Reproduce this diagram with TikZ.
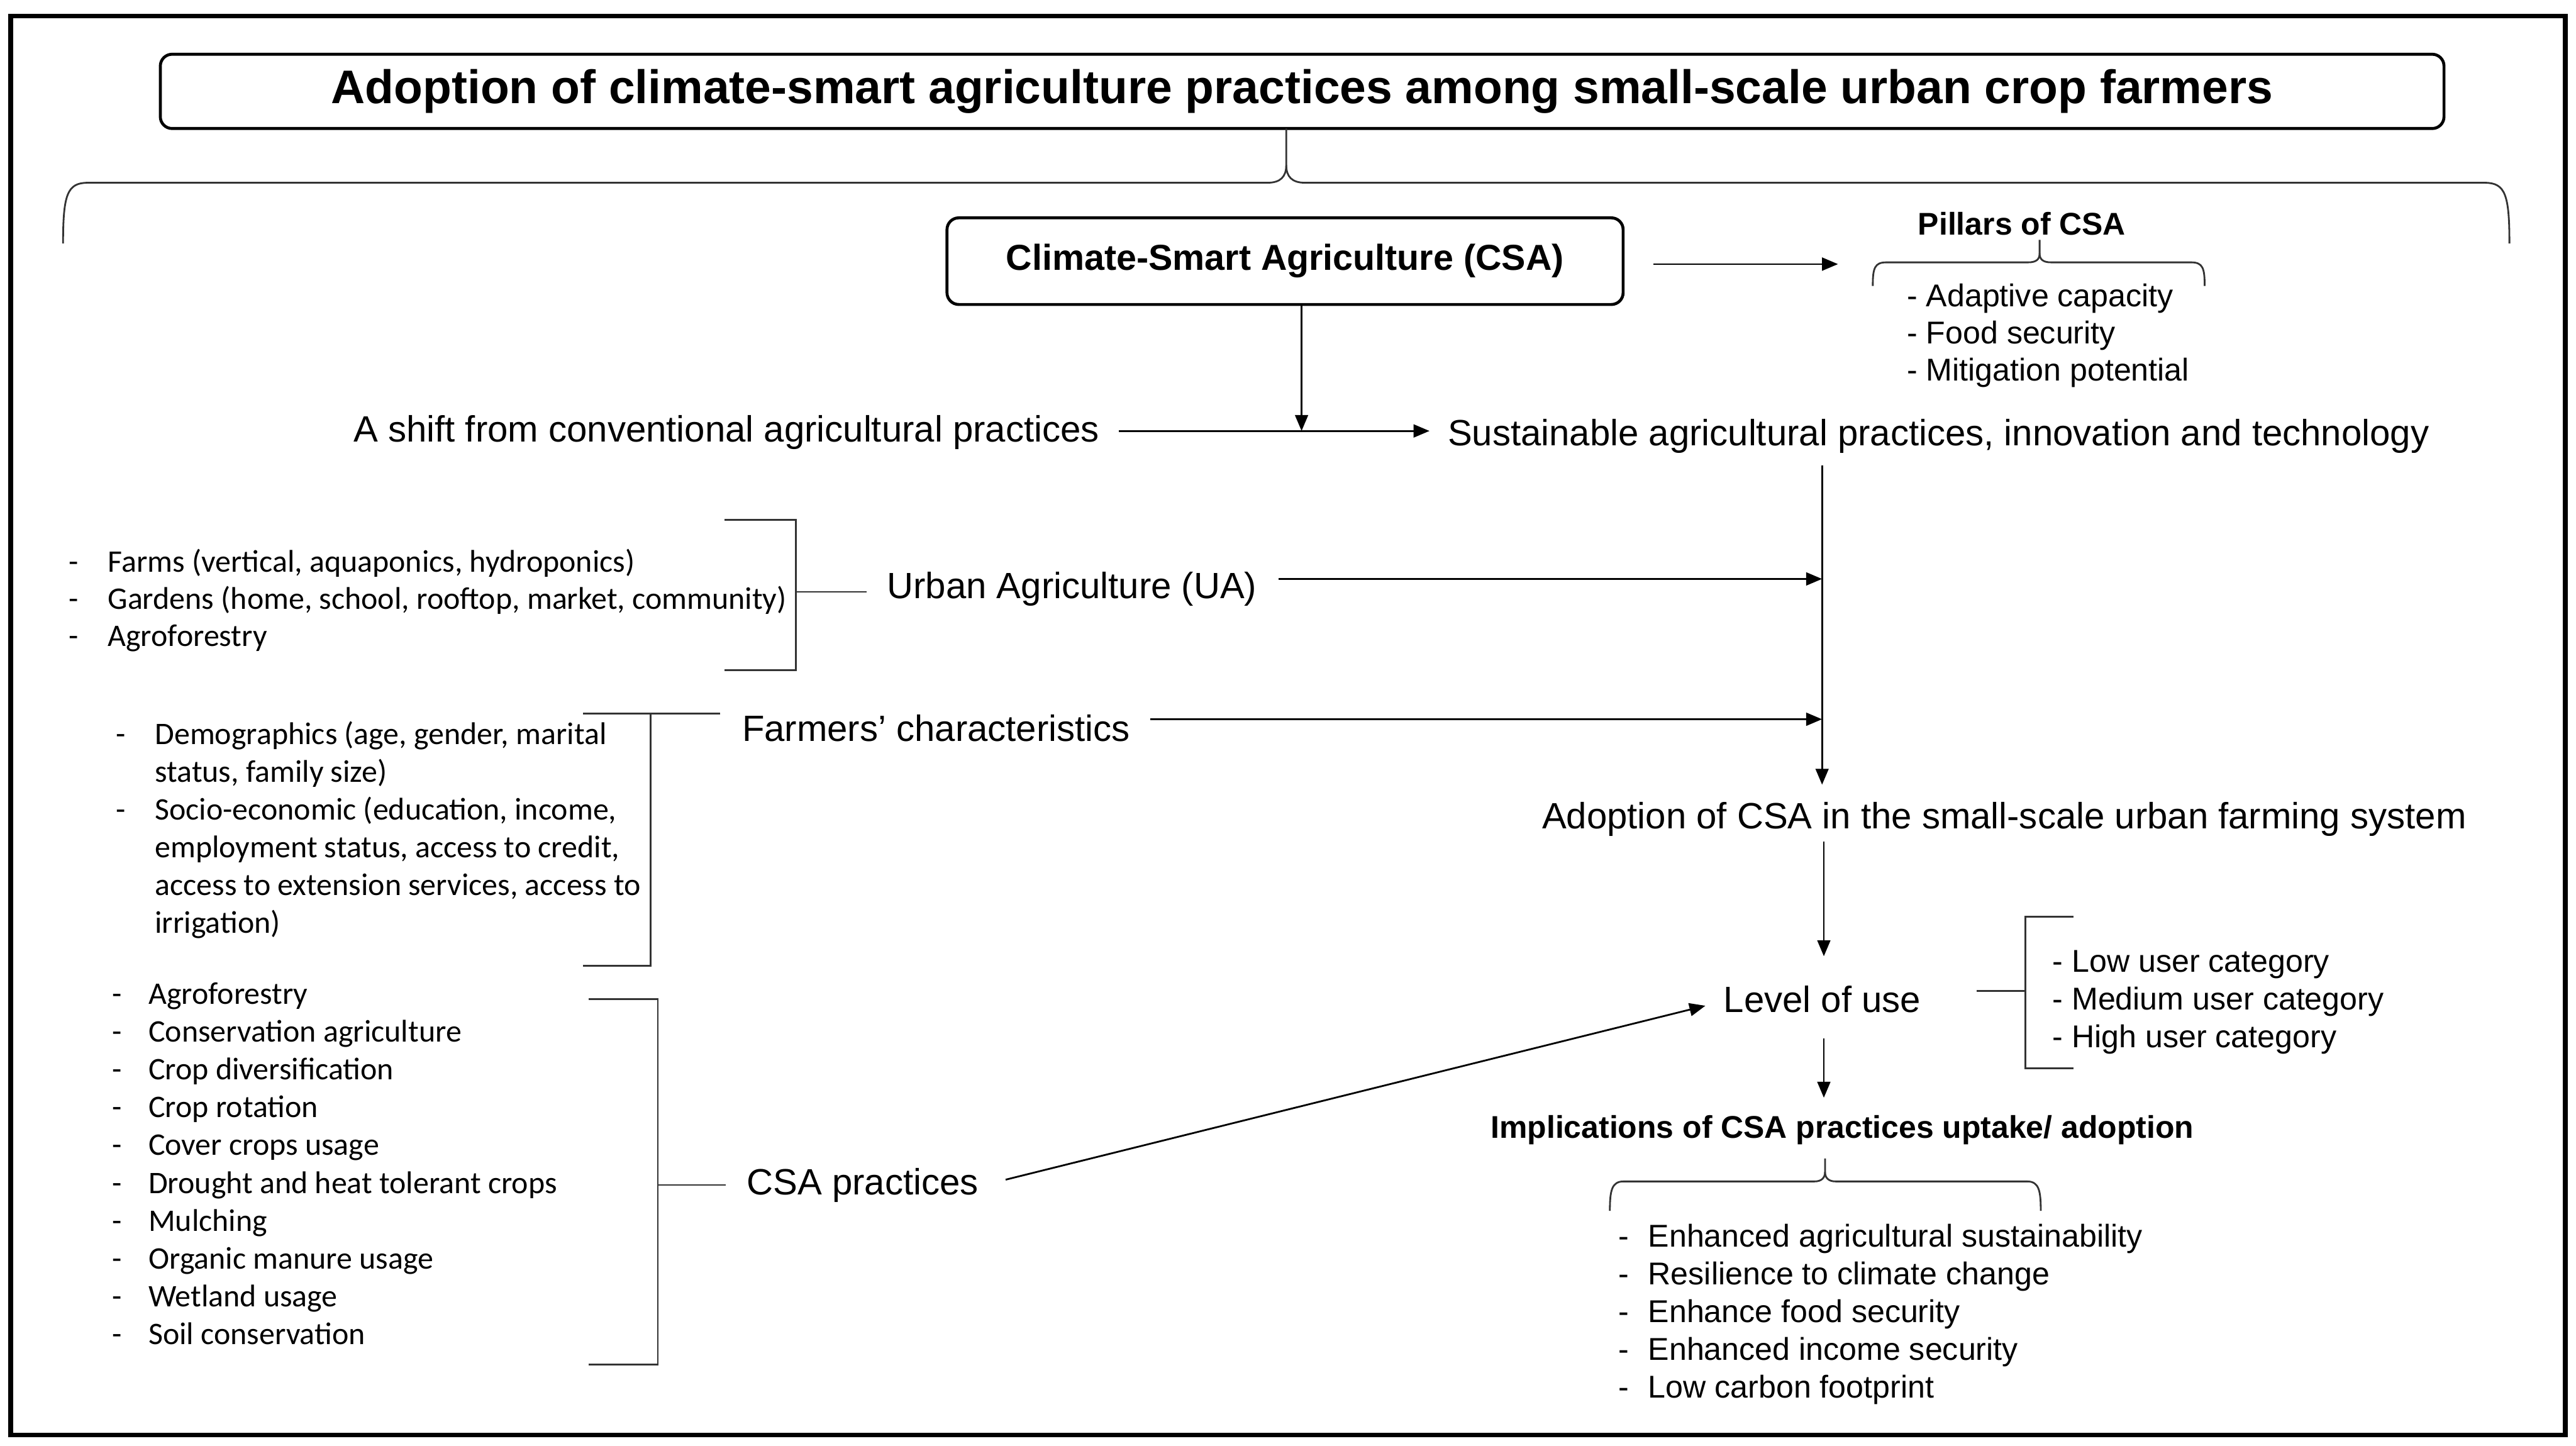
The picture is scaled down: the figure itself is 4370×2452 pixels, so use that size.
\documentclass[tikz,border=0pt]{standalone}
\usepackage{fontspec}
\setmainfont{Liberation Sans}
\newfontfamily\calfont{Carlito}
\usetikzlibrary{arrows.meta,calc}
\begin{document}
\begin{tikzpicture}[x=0.2pt,y=-0.2pt,
  lbl/.style={inner sep=0pt, anchor=base west, font=\fontsize{12.4pt}{14pt}\selectfont},
  arl/.style={inner sep=0pt, anchor=base west, font=\fontsize{10.7pt}{12pt}\selectfont},
  lst/.style={inner sep=0pt, anchor=base west, font=\calfont\fontsize{10.65pt}{12pt}\selectfont},
  bld/.style={inner sep=0pt, anchor=base west, font=\bfseries\fontsize{10.65pt}{12pt}\selectfont},
  arr/.style={-{Triangle[length=5.4pt,width=4.4pt]}, line width=0.6pt},
  brk/.style={line width=0.6pt, black!80},
  boxed/.style={draw, rounded corners=4pt, line width=1pt, inner sep=0pt}]
\useasboundingbox (0,0) rectangle (4370,2452);
\draw[line width=1.6pt] (18,27) rectangle (4352,2434);

% title
\node[boxed, minimum width=774.8pt, minimum height=25.2pt] (title) at (2209,155)
  {\raisebox{-1.4pt}{\bfseries\fontsize{16pt}{18pt}\selectfont Adoption of climate-smart agriculture practices among small-scale urban crop farmers}};
% big brace
\coordinate (btip) at (2182,218);
\draw[brk] (107,413) .. controls (107,330) and (114,310) .. (149,310) -- (2150,310)
  .. controls (2172,310) and (2182,300) .. (2182,280) -- (btip);
\draw[brk] (4257,413) .. controls (4257,330) and (4250,310) .. (4215,310) -- (2214,310)
  .. controls (2192,310) and (2182,300) .. (2182,280);

% CSA box
\node[boxed, minimum width=229.4pt, minimum height=29.4pt] (csa) at (2180,443)
  {\raisebox{-1.1pt}{\bfseries\fontsize{12.25pt}{14pt}\selectfont Climate-Smart Agriculture (CSA)}};

% pillars
\node[bld, anchor=base] (pill) at (3430,398) {Pillars of CSA};
\coordinate (ptip) at (3460,407);
\draw[brk] (3177,485) .. controls (3177,455) and (3180,445) .. (3200,445) -- (3441,445)
  .. controls (3454,445) and (3460,440) .. (3460,430) -- (ptip);
\draw[brk] (3740,485) .. controls (3740,455) and (3737,445) .. (3717,445) -- (3479,445)
  .. controls (3466,445) and (3460,440) .. (3460,430);
\node[arl] (p1) at (3234,520) {- Adaptive capacity};
\node[arl] (p2) at (3234,583) {- Food security};
\node[arl] (p3) at (3234,646) {- Mitigation potential};
\coordinate (csaR) at (2805,448);
\coordinate (pillL) at (3118,448);
\draw[arr] (csaR) -- (pillL);

% shift
\node[lbl] (shift) at (599,749) {A shift from conventional agricultural practices};
\node[lbl] (sust) at (2455,756) {Sustainable agricultural practices, innovation and technology};
\coordinate (shiftE) at (1898,731);
\coordinate (sustW) at (2425,731);
\coordinate (csaDown) at (2208,731);
\draw[arr] (shiftE) -- (sustW);
\draw[arr] (csa.south -| csaDown) -- (csaDown);

% main vertical
\coordinate (vtop) at (3091,789);
\coordinate (vbot) at (3091,1331);
\draw[arr] (vtop) -- (vbot);

% UA
\node[lbl] (ua) at (1504,1015) {Urban Agriculture (UA)};
\coordinate (uaE) at (2169,982);
\coordinate (uaJ) at (3091,982);
\draw[arr] (uaE) -- (uaJ);
\draw[brk] (1229,882) -- (1350,882) -- (1350,1137) -- (1229,1137);
\draw[brk] (1350,1004) -- (1470,1004);
\foreach \t [count=\i] in {Farms (vertical{,} aquaponics{,} hydroponics),Gardens (home{,} school{,} rooftop{,} market{,} community),Agroforestry}{
  \node[lst] (ud\i) at (116,{970+63*(\i-1)}) {-};
  \node[lst] (ui\i) at (182,{970+63*(\i-1)}) {\t};
}

% Farmers
\node[lbl] (farm) at (1258,1257) {Farmers’ characteristics};
\coordinate (farmE) at (1951,1220);
\coordinate (farmJ) at (3091,1220);
\draw[arr] (farmE) -- (farmJ);
\draw[brk] (1222,1210) -- (989,1210);
\draw[brk] (1104,1210) -- (1104,1638) -- (989,1638);
\node[lst] (fd1) at (196,1263) {-};
\node[lst] (fd3) at (196,1391) {-};
\foreach \t [count=\i] in {Demographics (age{,} gender{,} marital,status{,} family size),Socio-economic (education{,} income{,},employment status{,} access to credit{,},access to extension services{,} access to,irrigation)}{
  \node[lst] (fi\i) at (262,{1263+64*(\i-1)}) {\t};
}

% Adoption
\node[lbl] (adopt) at (2615,1406) {Adoption of CSA in the small-scale urban farming system};
\coordinate (adS) at (3094,1427);
\coordinate (lvN) at (3094,1622);
\draw[arr] (adS) -- (lvN);

% Level of use
\node[lbl] (level) at (2923,1717) {Level of use};
\draw[brk] (3353,1681) -- (3436,1681);
\draw[brk] (3517,1555) -- (3436,1555) -- (3436,1812) -- (3517,1812);
\node[arl] (l1) at (3481,1649) {- Low user category};
\node[arl] (l2) at (3481,1713) {- Medium user category};
\node[arl] (l3) at (3481,1777) {- High user category};
\coordinate (lvS) at (3094,1761);
\coordinate (imN) at (3094,1862);
\draw[arr] (lvS) -- (imN);

% Implications
\node[bld] (impl) at (2528,1931) {Implications of CSA practices uptake/ adoption};
\coordinate (itip) at (3096,1965);
\draw[brk] (2731,2054) .. controls (2731,2020) and (2734,2004) .. (2754,2004) -- (3078,2004)
  .. controls (3090,2004) and (3096,1998) .. (3096,1988) -- (itip);
\draw[brk] (3462,2054) .. controls (3462,2020) and (3459,2004) .. (3439,2004) -- (3114,2004)
  .. controls (3102,2004) and (3096,1998) .. (3096,1988);
\foreach \t [count=\i] in {Enhanced agricultural sustainability,Resilience to climate change,Enhance food security,Enhanced income security,Low carbon footprint}{
  \node[arl] (id\i) at (2745,{2115+64*(\i-1)}) {-};
  \node[arl] (ii\i) at (2795,{2115+64*(\i-1)}) {\t};
}

% CSA practices
\node[lbl] (prac) at (1266,2027) {CSA practices};
\coordinate (prE) at (1706,2001);
\coordinate (lvW) at (2893,1706);
\draw[arr] (prE) -- (lvW);
\draw[brk] (999,1695) -- (1116,1695) -- (1116,2315) -- (999,2315);
\draw[brk] (1116,2010) -- (1231,2010);
\foreach \t [count=\i] in {Agroforestry,Conservation agriculture,Crop diversification,Crop rotation,Cover crops usage,Drought and heat tolerant crops,Mulching,Organic manure usage,Wetland usage,Soil conservation}{
  \node[lst] (cd\i) at (189,{1703+64.2*(\i-1)}) {-};
  \node[lst] (ci\i) at (251,{1703+64.2*(\i-1)}) {\t};
}
\end{tikzpicture}
\end{document}
